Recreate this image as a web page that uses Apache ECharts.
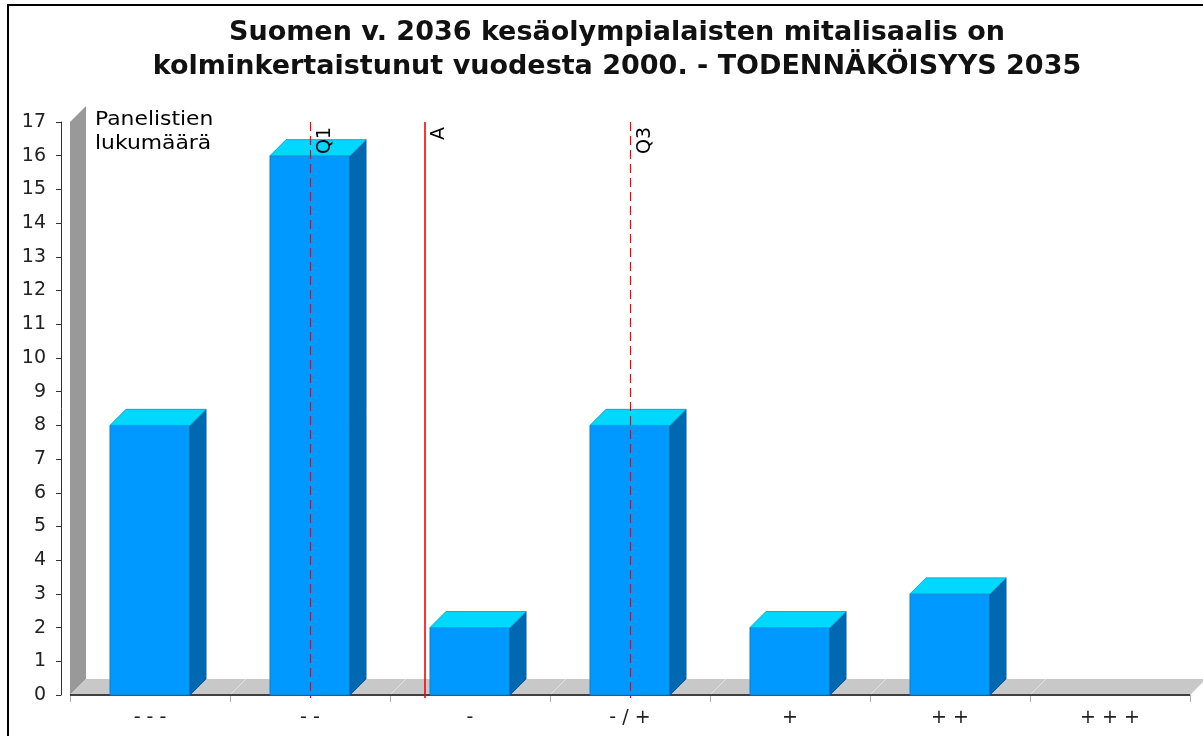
<!DOCTYPE html>
<html>
<head>
<meta charset="utf-8">
<script src="https://cdn.jsdelivr.net/npm/echarts@6/dist/echarts.min.js"></script>
<style>
html,body{margin:0;padding:0;background:#fff;}
#chart{width:1203px;height:736px;}
</style>
</head>
<body>
<div id="chart"></div>
<script>
// ---- data ----
const titleLines = ['Suomen v. 2036 kesäolympialaisten mitalisaalis on', 'kolminkertaistunut vuodesta 2000. - TODENNÄKÖISYYS 2035'];
const yName = ['Panelistien', 'lukumäärä'];
const categories = ['- - -', '- -', '-', '- / +', '+', '+ +', '+ + +'];
const counts = [8, 16, 2, 8, 2, 3, 0];
const yMin = 0, yMax = 17, yInterval = 1;
const markerNames = ['Q1', 'A', 'Q3'];
const markerScores = [2, 2.72, 4]; // position on the 1..7 answer scale

// ---- chart ----
const chart = echarts.init(document.getElementById('chart'), null, {renderer: 'canvas'});
const FONT = 'DejaVu Sans';
const D = 16; // 3D depth

const option = {
  backgroundColor: '#ffffff',
  animation: false,
  grid: {left: 70, right: 13, top: 122, bottom: 41, containLabel: false},
  xAxis: [
    {
      type: 'category', data: categories, gridIndex: 0,
      axisLine: {show: false},
      axisTick: {show: true, length: 7, lineStyle: {color: '#aaaaaa'}},
      axisLabel: {margin: 14, fontSize: 19, color: '#222222', fontFamily: FONT},
      splitLine: {show: false}
    },
    {
      type: 'value', min: 0.5, max: categories.length + 0.5, show: false, gridIndex: 0
    }
  ],
  yAxis: {
    type: 'value', min: yMin, max: yMax, interval: yInterval, offset: 9,
    axisLine: {show: true, lineStyle: {color: '#333333', width: 1}},
    axisTick: {show: true, length: 5, lineStyle: {color: '#333333'}},
    axisLabel: {margin: 15, fontSize: 19, color: '#222222', fontFamily: FONT},
    splitLine: {show: false}
  },
  graphic: [
    {type: 'rect', shape: {x: 8, y: 5, width: 1300, height: 800}, style: {fill: 'none', stroke: '#000', lineWidth: 2}, silent: true, z: 100},
    {type: 'text', x: 617, y: 16, style: {text: titleLines.join('\n'), align: 'center', verticalAlign: 'top', font: 'bold 27px "DejaVu Sans"', lineHeight: 34, fill: '#111'}, z: 100},
    {type: 'text', x: 95, y: 108, scaleX: 1.15, style: {text: yName.join('\n'), align: 'left', verticalAlign: 'top', font: '19px "DejaVu Sans"', lineHeight: 24, fill: '#000'}, z: 100}
  ],
  series: [
    {
      type: 'custom', name: 'background', xAxisIndex: 0, yAxisIndex: 0, z: 1, silent: true,
      data: [[0, 0]],
      renderItem: function (params, api) {
        const cs = params.coordSys;
        const L = cs.x, R = cs.x + cs.width, T = cs.y, B = cs.y + cs.height;
        const step = cs.width / categories.length;
        const children = [
          {type: 'polygon', shape: {points: [[L, B], [L, T], [L + D, T - D], [L + D, B - D]]}, style: {fill: '#999999'}},
          {type: 'polygon', shape: {points: [[L, B], [R, B], [R + D, B - D], [L + D, B - D]]}, style: {fill: '#c8c8c8'}}
        ];
        for (let k = 1; k < categories.length; k++) {
          const x = L + k * step;
          children.push({type: 'line', shape: {x1: x, y1: B, x2: x + D, y2: B - D}, style: {stroke: '#e4e4e4', lineWidth: 1}});
        }
        children.push({type: 'line', shape: {x1: L, y1: B, x2: R, y2: B}, style: {stroke: '#404040', lineWidth: 2}});
        return {type: 'group', children: children};
      }
    },
    {
      type: 'custom', name: 'Panelistien lukumäärä', xAxisIndex: 0, yAxisIndex: 0, z: 2,
      data: counts.map((v, i) => [i, v]),
      renderItem: function (params, api) {
        const v = api.value(1);
        if (!v) return {type: 'group', children: []};
        const top = api.coord([api.value(0), v]);
        const bot = api.coord([api.value(0), 0]);
        const w = api.size([1, 0])[0] * 0.5;
        const x1 = top[0] - w / 2, x2 = top[0] + w / 2;
        const yT = top[1], yB = bot[1];
        return {
          type: 'group',
          children: [
            {type: 'rect', shape: {x: x1, y: yT, width: w, height: yB - yT}, style: {fill: '#0099ff', stroke: '#0a7fc8', lineWidth: 1}},
            {type: 'polygon', shape: {points: [[x2, yT], [x2 + D, yT - D], [x2 + D, yB - D], [x2, yB]]}, style: {fill: '#0068b0', stroke: '#0a5f9c', lineWidth: 1}},
            {type: 'polygon', shape: {points: [[x1, yT], [x1 + D, yT - D], [x2 + D, yT - D], [x2, yT]]}, style: {fill: '#00d8ff', stroke: '#10a8cc', lineWidth: 1}}
          ]
        };
      }
    },
    {
      type: 'custom', name: 'markers', xAxisIndex: 1, yAxisIndex: 0, z: 3, silent: true,
      data: markerScores.map((s, i) => [s, 0, i]),
      renderItem: function (params, api) {
        const cs = params.coordSys;
        const p = api.coord([api.value(0), 0]);
        const name = markerNames[api.value(2)];
        const solid = name === 'A';
        const x = solid ? Math.round(p[0]) : Math.round(p[0]) + 0.5;
        const T = cs.y, B = cs.y + cs.height;
        const lineStyle = {stroke: '#ff0000', lineWidth: solid ? 1.6 : 1.2};
        if (!solid) lineStyle.lineDash = [9, 5];
        return {
          type: 'group',
          children: [
            {type: 'line', shape: {x1: x, y1: T, x2: x, y2: B + 3}, style: lineStyle},
            {type: 'text', x: x + 5, y: T + 5, rotation: Math.PI / 2,
              style: {text: name, x: 0, y: 0, align: 'right', verticalAlign: 'top', font: '19px "DejaVu Sans"', fill: '#000'}}
          ]
        };
      }
    }
  ]
};
chart.setOption(option);
</script>
</body>
</html>
